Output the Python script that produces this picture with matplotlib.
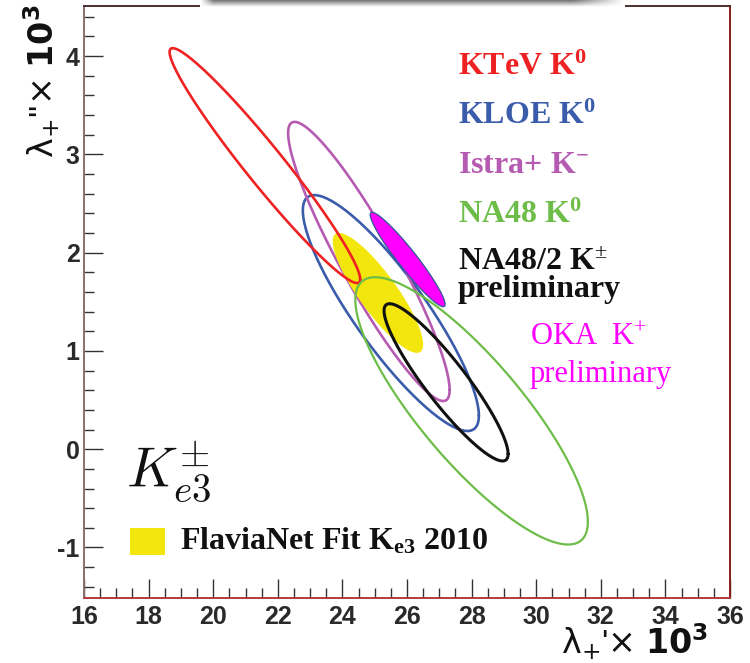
import numpy as np
import matplotlib
matplotlib.use("Agg")
import matplotlib.pyplot as plt
from matplotlib.patches import Polygon, Rectangle
from matplotlib.ticker import MultipleLocator

plt.rcParams["mathtext.fontset"] = "custom"
plt.rcParams["mathtext.rm"] = "Liberation Serif"
plt.rcParams["mathtext.bf"] = "Liberation Serif:bold"
plt.rcParams["mathtext.it"] = "Liberation Serif:italic"
plt.rcParams["axes.unicode_minus"] = False

# Form-factor slope measurements: centre (lambda+', lambda+''), 1-sigma extents, correlation
experiments = ["KTeV", "KLOE", "Istra+", "NA48", "NA48/2", "FlaviaNet", "OKA"]
lam1 = [21.60, 25.50, 24.82, 28.00, 27.21, 25.10, 26.02]
lam2 = [2.885, 1.385, 1.91, 0.39, 0.68, 1.59, 1.93]
sig1 = [2.95, 2.725, 2.50, 3.60, 1.92, 1.40, 1.16]
sig2 = [1.195, 1.20, 1.42, 1.36, 0.80, 0.61, 0.48]
rho = [-0.967, -0.87, -0.92, -0.83, -0.91, -0.86, -0.95]

labels = {
    "KTeV": r"KTeV K$^{\mathbf{0}}$",
    "KLOE": r"KLOE K$^{\mathbf{0}}$",
    "Istra+": r"Istra+ K$^{\mathbf{-}}$",
    "NA48": r"NA48 K$^{\mathbf{0}}$",
    "NA48/2": r"NA48/2 K$^{\pm}$",
}
colors = {
    "KTeV": "#ee2222",
    "KLOE": "#3a5cab",
    "Istra+": "#b65bb2",
    "NA48": "#6dbd48",
    "NA48/2": "#111111",
    "FlaviaNet": "#f2e60c",
    "OKA": "#ff00ff",
}
widths = {"KTeV": 1.9, "KLOE": 1.9, "Istra+": 1.9, "NA48": 1.6, "NA48/2": 2.2}
zorders = {"KLOE": 2, "Istra+": 2, "FlaviaNet": 3, "KTeV": 4, "NA48": 4,
           "NA48/2": 5, "OKA": 6}


def contour(cx, cy, sx, sy, r, n=400):
    t = np.linspace(0, 2 * np.pi, n)
    x = cx + sx * np.cos(t)
    y = cy + sy * (r * np.cos(t) + np.sqrt(1 - r ** 2) * np.sin(t))
    return np.column_stack([x, y])


fig = plt.figure(figsize=(7.5, 6.63), dpi=100)
ax = fig.add_axes([84 / 750, 1 - 598 / 663, 646 / 750, 592 / 663])

for name, cx, cy, sx, sy, r in zip(experiments, lam1, lam2, sig1, sig2, rho):
    pts = contour(cx, cy, sx, sy, r)
    if name == "FlaviaNet":
        ax.add_patch(Polygon(pts, closed=True, facecolor=colors[name],
                             edgecolor="none", zorder=zorders[name]))
    elif name == "OKA":
        ax.add_patch(Polygon(pts, closed=True, facecolor=colors[name],
                             edgecolor="#2b5b94", lw=0.9, zorder=zorders[name]))
    else:
        ax.plot(pts[:, 0], pts[:, 1], color=colors[name], lw=widths[name],
                zorder=zorders[name], solid_capstyle="round")

ax.set_xlim(16, 36)
ax.set_ylim(-1.514, 4.509)
ax.xaxis.set_major_locator(MultipleLocator(2))
ax.xaxis.set_minor_locator(MultipleLocator(0.5))
ax.yaxis.set_major_locator(MultipleLocator(1))
ax.yaxis.set_minor_locator(MultipleLocator(0.2))
ax.tick_params(which="both", direction="in", top=False, right=False,
               color="#333333", width=1.0)
ax.tick_params(which="major", length=14)
ax.tick_params(which="minor", length=7)
ax.tick_params(axis="x", which="major", pad=5)
ax.tick_params(axis="y", which="major", pad=3)
for lab in ax.get_xticklabels() + ax.get_yticklabels():
    lab.set_fontfamily("Liberation Sans")
    lab.set_fontweight("bold")
    lab.set_fontsize(18)
    lab.set_color("#2a2a2a")

ax.spines["left"].set_color("#8c6e6e")
ax.spines["bottom"].set_color("#b23a3a")
ax.spines["top"].set_color("#4a3030")
ax.spines["right"].set_color("#8b1a1a")
for s in ax.spines.values():
    s.set_linewidth(1.4)

# Axis titles
fig.text(708 / 750, 1 - 654 / 663, r"$\mathrm{\lambda}_{+}$'$\times$ $\mathbf{10^{3}}$",
         ha="right", va="baseline", fontsize=24, color="#111111",
         fontfamily="Liberation Sans", math_fontfamily="dejavusans")
fig.text(42 / 750, 1 - 4 / 663, r"$\mathrm{\lambda}_{+}$''$\times$ $\mathbf{10^{3}}$",
         ha="center", va="top", rotation=90, fontsize=24, color="#111111",
         fontfamily="Liberation Sans", math_fontfamily="dejavusans")

# Experiment labels
label_base = [75, 124, 173, 223, 270]
for name, yb in zip(["KTeV", "KLOE", "Istra+", "NA48", "NA48/2"], label_base):
    fig.text(458 / 750, 1 - yb / 663, labels[name], ha="left", va="baseline",
             fontsize=23, fontweight="bold", fontfamily="Liberation Serif",
             color=colors[name], math_fontfamily="custom")
fig.text(458 / 750, 1 - 297 / 663, "preliminary", ha="left", va="baseline",
         fontsize=23, fontweight="bold", fontfamily="Liberation Serif",
         color=colors["NA48/2"])

fig.text(530 / 750, 1 - 345 / 663, r"OKA  K$^{+}$", ha="left", va="baseline",
         fontsize=22, fontfamily="Liberation Serif", color=colors["OKA"],
         math_fontfamily="custom")
fig.text(530 / 750, 1 - 382 / 663, "preliminary", ha="left", va="baseline",
         fontsize=22, fontfamily="Liberation Serif", color=colors["OKA"])

# Process label
fig.text(126 / 750, 1 - 488 / 663, r"$K^{\pm}_{e3}$", ha="left", va="baseline",
         fontsize=40, color="#111111", math_fontfamily="cm")

# Fit legend entry
fig.patches.append(Rectangle((130 / 750, 1 - 555 / 663), 35 / 750, 27 / 663,
                             transform=fig.transFigure, facecolor=colors["FlaviaNet"],
                             edgecolor="none"))
fig.text(180 / 750, 1 - 550 / 663, r"FlaviaNet Fit K$_{\mathbf{e3}}$ 2010",
         ha="left", va="baseline", fontsize=23, fontweight="bold",
         fontfamily="Liberation Serif", color="#111111", math_fontfamily="custom")

# Soft shadow strip along the top edge
bar = fig.add_axes([200 / 750, 1 - 7 / 663, 425 / 750, 7 / 663])
gy = np.linspace(0.45, 1.0, 20)[:, None]
edge = np.linspace(0, 1, 200)
fade = np.clip(np.minimum(edge / 0.03, (1 - edge) / 0.12), 0, 1)[None, :]
img = 1 - (1 - gy) * fade
bar.imshow(img, cmap="gray", vmin=0, vmax=1, aspect="auto")
bar.axis("off")

fig.savefig("out.png", dpi=100)
